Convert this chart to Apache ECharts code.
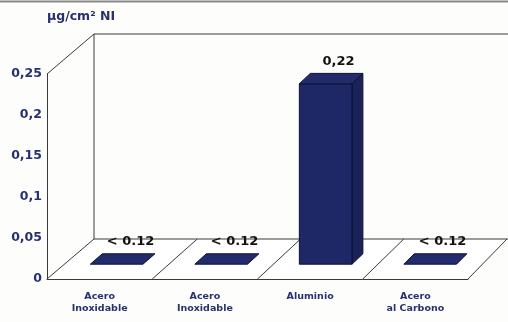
<!DOCTYPE html>
<html><head><meta charset="utf-8">
<script src="https://cdn.jsdelivr.net/npm/echarts@6/dist/echarts.min.js"></script>
<style>html,body{margin:0;padding:0;background:#fdfdfb}#c{width:508px;height:322px}</style>
</head><body><div id="c"></div><script>
// ---- data ----
const categories = ['Acero\nInoxidable', 'Acero\nInoxidable', 'Aluminio', 'Acero\nal Carbono'];
const values = [0, 0, 0.22, 0];
const valueLabels = ['< 0.12', '< 0.12', '0,22', '< 0.12'];
const yMin = 0, yMax = 0.25, yStep = 0.05;
const unitLabel = 'µg/cm² NI';

// ---- pseudo-3D styling ----
const DEPTH_L = 47, DEPTH_R = 39, DEPTH_Y = -40;
const BAR_F1 = 0.37, BAR_F2 = 0.63, BAR_W = 0.5;
const NAVY = '#1e2866', LINE = '#3a3a3a', TXT = '#26316f';
const FONT = 'DejaVu Sans';

const chart = echarts.init(document.getElementById('c'), null, {renderer: 'canvas'});

function frameInfo(api) {
  const n = categories.length;
  const c0 = api.coord([0, yMin]);
  const w = api.size([1, 0])[0];
  const xL = c0[0] - w / 2, xR = xL + n * w;
  const dx = x => DEPTH_L + (DEPTH_R - DEPTH_L) * (x - xL) / (xR - xL);
  return {n, w, xL, xR, yB: c0[1], yT: api.coord([0, yMax])[1], dx};
}
const ln = (a, b) => ({type: 'line', shape: {x1: a[0], y1: a[1], x2: b[0], y2: b[1]},
  style: {stroke: LINE, lineWidth: 1}});

function renderFrame(params, api) {
  const F = frameInfo(api);
  const W = api.getWidth();
  const back = (x, y) => [x + F.dx(x), y + DEPTH_Y];
  const bTL = back(F.xL, F.yT), bBL = back(F.xL, F.yB), bBR = back(F.xR, F.yB);
  const ch = [];
  ch.push({type: 'polygon', shape: {points: [[F.xL, F.yB], bBL, [W, bBL[1]], bBR, [F.xR, F.yB]]},
    style: {fill: '#ffffff'}});
  ch.push(ln(bTL, [W, bTL[1]]));
  ch.push(ln(bTL, bBL));
  ch.push(ln(bBL, [W, bBL[1]]));
  ch.push(ln([F.xL, F.yT], bTL));
  ch.push(ln([F.xL, F.yB], bBL));
  for (let i = 1; i <= F.n; i++) {
    const x = F.xL + i * F.w;
    ch.push(ln([x, F.yB], back(x, F.yB)));
  }
  return {type: 'group', children: ch};
}

function renderBar(params, api) {
  const F = frameInfo(api);
  const i = api.value(0), v = api.value(1);
  const cb = api.coord([i, 0]), ct = api.coord([i, v]);
  const d = F.dx(cb[0]);
  const bw = F.w * BAR_W;
  const x0 = cb[0] - bw / 2 + d * BAR_F1, x1 = x0 + bw;
  const yTop = ct[1] + DEPTH_Y * BAR_F1, yBot = cb[1] + DEPTH_Y * BAR_F1;
  const ddx = d * (BAR_F2 - BAR_F1), ddy = DEPTH_Y * (BAR_F2 - BAR_F1);
  const st = {stroke: '#0d1130', lineWidth: 1, lineJoin: 'round'};
  const ch = [];
  if (yBot - yTop > 0.5) {
    ch.push({type: 'polygon', shape: {points: [[x1, yTop], [x1, yBot], [x1 + ddx, yBot + ddy], [x1 + ddx, yTop + ddy]]},
      style: Object.assign({fill: '#1a2359'}, st)});
    ch.push({type: 'polygon', shape: {points: [[x0, yTop], [x1, yTop], [x1, yBot], [x0, yBot]]},
      style: Object.assign({fill: NAVY}, st)});
  }
  ch.push({type: 'polygon', shape: {points: [[x0, yTop], [x1, yTop], [x1 + ddx, yTop + ddy], [x0 + ddx, yTop + ddy]]},
    style: Object.assign({fill: '#222c6c'}, st)});
  ch.push({type: 'text', style: {text: valueLabels[i], x: (x0 + x1) / 2 + ddx + 2, y: yTop + ddy - 12,
    align: 'center', verticalAlign: 'middle', fill: '#111', font: 'bold 13px "' + FONT + '"'}});
  return {type: 'group', children: ch};
}

chart.setOption({
  backgroundColor: '#fdfdfb',
  animation: false,
  grid: {left: 47, right: 40, top: 74, bottom: 43},
  xAxis: {type: 'category', data: categories,
    axisLine: {show: true, lineStyle: {color: LINE, width: 1}}, axisTick: {show: false},
    axisLabel: {margin: 11, color: TXT, fontFamily: FONT, fontWeight: 'bold', fontSize: 9.5, lineHeight: 12.5, interval: 0}},
  yAxis: {type: 'value', min: yMin, max: yMax, interval: yStep,
    axisLine: {show: true, lineStyle: {color: LINE, width: 1}}, axisTick: {show: false}, splitLine: {show: false},
    axisLabel: {margin: 5, color: TXT, fontFamily: FONT, fontWeight: 'bold', fontSize: 12.5,
      formatter: v => (v === 0 ? '0' : String(+v.toFixed(2)).replace('.', ','))}},
  graphic: [
    {type: 'line', shape: {x1: 0, y1: 1.5, x2: 508, y2: 1.5}, style: {stroke: '#888', lineWidth: 2}, silent: true},
    {type: 'text', left: 47, top: 10, style: {text: unitLabel, fill: TXT, font: 'bold 12.5px "' + FONT + '"'}}
  ],
  series: [
    {type: 'custom', renderItem: renderFrame, data: [[0, 0]], z: 1, silent: true, clip: false},
    {type: 'custom', renderItem: renderBar, data: values.map((v, i) => [i, v]), z: 3, clip: false}
  ]
});
</script></body></html>
